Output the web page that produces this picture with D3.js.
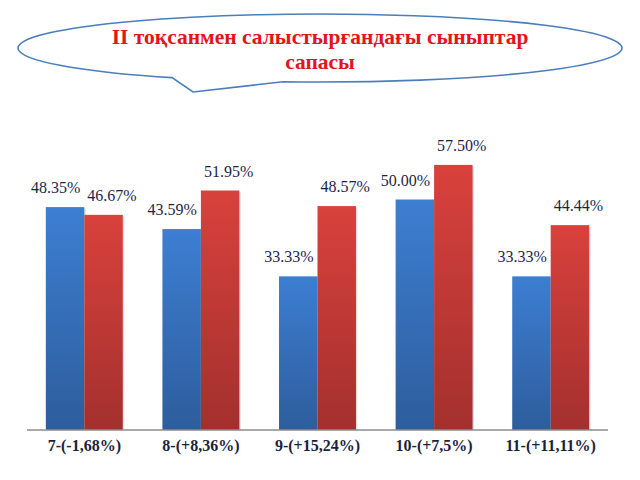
<!DOCTYPE html>
<html>
<head>
<meta charset="utf-8">
<script src="https://cdn.jsdelivr.net/npm/d3@7"></script>
<style>
  html, body { margin: 0; padding: 0; background: #ffffff; }
  svg { display: block; }
  .serif { font-family: "Liberation Serif", "DejaVu Serif", serif; }
</style>
</head>
<body>
<script>
const titleLines = ["II тоқсанмен салыстырғандағы сыныптар", "сапасы"];
const categories = ["7-(-1,68%)", "8-(+8,36%)", "9-(+15,24%)", "10-(+7,5%)", "11-(+11,11%)"];
const seriesNames = ["II тоқсан", "III тоқсан"];
const quarter2 = [48.35, 43.59, 33.33, 50.00, 33.33];
const quarter3 = [46.67, 51.95, 48.57, 57.50, 44.44];
const valueLabels2 = ["48.35%", "43.59%", "33.33%", "50.00%", "33.33%"];
const valueLabels3 = ["46.67%", "51.95%", "48.57%", "57.50%", "44.44%"];

const W = 640, H = 480;
const svg = d3.select("body").append("svg").attr("width", W).attr("height", H);

const defs = svg.append("defs");
const gb = defs.append("linearGradient").attr("id", "gBlue").attr("x1", 0).attr("y1", 0).attr("x2", 0).attr("y2", 1);
gb.append("stop").attr("offset", "0%").attr("stop-color", "#3d7ed2");
gb.append("stop").attr("offset", "100%").attr("stop-color", "#2d5d9c");
const gr = defs.append("linearGradient").attr("id", "gRed").attr("x1", 0).attr("y1", 0).attr("x2", 0).attr("y2", 1);
gr.append("stop").attr("offset", "0%").attr("stop-color", "#d9413c");
gr.append("stop").attr("offset", "100%").attr("stop-color", "#a3302e");

// Speech bubble
const cx = 320, cy = 48, rx = 302, ry = 34;
const tailL = 172, tailR = 283, tipX = 193, tipY = 92;
const ey = xv => cy + ry * Math.sqrt(1 - Math.pow((xv - cx) / rx, 2));
const bubble = `M${tailR},${ey(tailR)} A${rx},${ry} 0 1 0 ${tailL},${ey(tailL)} L${tipX},${tipY} Z`;
svg.append("path").attr("d", bubble)
  .attr("fill", "#ffffff").attr("stroke", "#4a7ebb").attr("stroke-width", 1.6);

svg.append("g").selectAll("text").data(titleLines).join("text")
  .attr("class", "serif")
  .attr("x", 320).attr("y", (d, i) => 44 + i * 25)
  .attr("text-anchor", "middle")
  .style("font-weight", "bold").style("font-size", "21.5px")
  .attr("fill", "#e3141c")
  .text(d => d);

// Chart
const x = d3.scaleBand().domain(categories).range([26, 609]).paddingInner(0.34).paddingOuter(0.17);
const xs = d3.scaleBand().domain(seriesNames).range([0, x.bandwidth()]);
const y = d3.scaleLinear().domain([0, 60]).range([430, 153.4]);

const rows = categories.map((c, i) => ({
  cat: c,
  vals: [
    { s: seriesNames[0], v: quarter2[i], lab: valueLabels2[i] },
    { s: seriesNames[1], v: quarter3[i], lab: valueLabels3[i] }
  ]
}));

const groups = svg.append("g").selectAll("g").data(rows).join("g")
  .attr("transform", d => `translate(${x(d.cat)},0)`);

groups.selectAll("rect.sh").data(d => d.vals).join("rect").attr("class", "sh")
  .attr("x", d => xs(d.s) + 1.5).attr("y", d => y(d.v) + 1.5)
  .attr("width", xs.bandwidth()).attr("height", d => y(0) - y(d.v) - 1.5)
  .attr("fill", "#000").attr("opacity", 0.12);

groups.selectAll("rect.bar").data(d => d.vals).join("rect").attr("class", "bar")
  .attr("x", d => xs(d.s)).attr("y", d => y(d.v))
  .attr("width", xs.bandwidth()).attr("height", d => y(0) - y(d.v))
  .attr("fill", (d, i) => i === 0 ? "url(#gBlue)" : "url(#gRed)");

groups.selectAll("text.val").data(d => d.vals).join("text").attr("class", "val serif")
  .attr("x", (d, i) => i === 0 ? xs(d.s) + xs.bandwidth() - 4 : xs(d.s) + 3)
  .attr("y", d => y(d.v) - 14)
  .attr("text-anchor", (d, i) => i === 0 ? "end" : "start")
  .style("font-size", "16px").attr("fill", "#1c1f4a")
  .text(d => d.lab);

// axis
const xAxis = d3.axisBottom(x).tickSize(0).tickPadding(10);
const ax = svg.append("g").attr("transform", `translate(0,${y(0)})`).call(xAxis);
ax.attr("font-family", null);
ax.select(".domain").attr("stroke", "#8c8c8c").attr("stroke-width", 1.5).attr("d", "M27,0H608");
ax.selectAll("text").attr("class", "serif")
  .style("font-weight", "bold").style("font-size", "16px").attr("fill", "#1c1f3a");
</script>
</body>
</html>
